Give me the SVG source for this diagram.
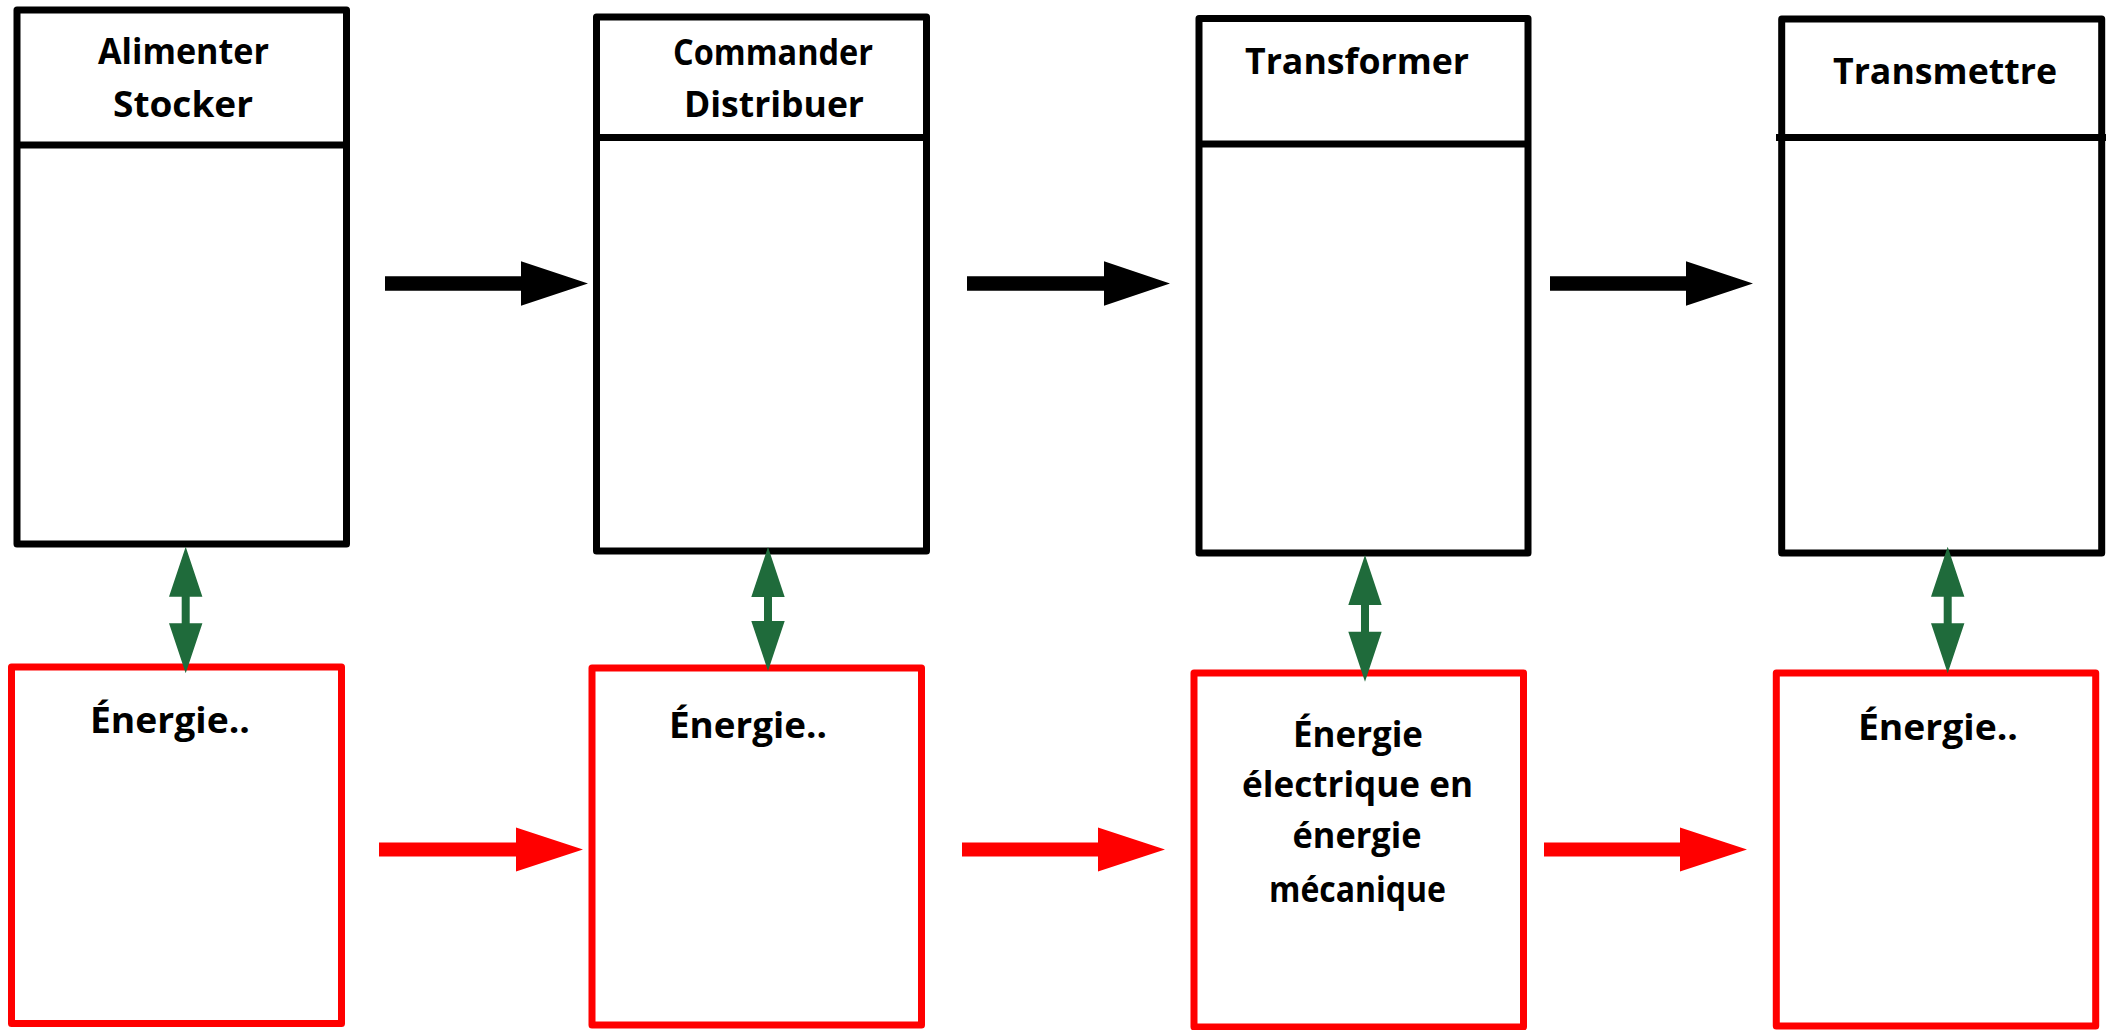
<svg xmlns="http://www.w3.org/2000/svg" width="2112" height="1030" viewBox="0 0 2112 1030">
<style>
.bk{fill:#fff;stroke:#000;stroke-width:7;stroke-linejoin:round}
.dv{stroke:#000;stroke-width:7;stroke-linecap:butt}
.rd{fill:#fff;stroke:#ff0000;stroke-width:7;stroke-linejoin:round}
.t{font-family:'Comic Sans MS','Open Sans','DejaVu Sans',sans-serif;font-weight:bold;font-size:36px;fill:#000;text-anchor:middle}
.ab{fill:#000}
.ar{fill:#ff0000}
.ag{fill:#1f6b3b}
</style>
<rect width="2112" height="1030" fill="#fff"/>
<g id="fn1">
<rect class="bk" x="17" y="10" width="329.5" height="534"/>
<line class="dv" x1="17" y1="145" x2="346.5" y2="145"/>
<text class="t" x="183.5" y="64" textLength="171" lengthAdjust="spacingAndGlyphs">Alimenter</text>
<text class="t" x="183" y="117" textLength="140" lengthAdjust="spacingAndGlyphs">Stocker</text>
</g>
<g id="fn2">
<rect class="bk" x="596.5" y="17" width="330" height="534"/>
<line class="dv" x1="596.5" y1="137.5" x2="926.5" y2="137.5"/>
<text class="t" x="773" y="65" textLength="200" lengthAdjust="spacingAndGlyphs">Commander</text>
<text class="t" x="774" y="117" textLength="180" lengthAdjust="spacingAndGlyphs">Distribuer</text>
</g>
<g id="fn3">
<rect class="bk" x="1199" y="18.5" width="329" height="534.5"/>
<line class="dv" x1="1199" y1="144" x2="1528" y2="144"/>
<text class="t" x="1357" y="74" textLength="224" lengthAdjust="spacingAndGlyphs">Transformer</text>
</g>
<g id="fn4">
<rect class="bk" x="1781.7" y="19" width="320" height="534"/>
<line class="dv" x1="1776" y1="137.5" x2="2106" y2="137.5"/>
<text class="t" x="1945" y="84" textLength="224" lengthAdjust="spacingAndGlyphs">Transmettre</text>
</g>
<g id="en1">
<rect class="rd" x="11.5" y="667" width="330" height="356.5"/>
<text class="t" x="170" y="733" textLength="160" lengthAdjust="spacingAndGlyphs">Énergie..</text>
</g>
<g id="en2">
<rect class="rd" x="592" y="668" width="329.5" height="357"/>
<text class="t" x="748" y="738" textLength="158" lengthAdjust="spacingAndGlyphs">Énergie..</text>
</g>
<g id="en3">
<rect class="rd" x="1194" y="673" width="329.5" height="354"/>
<text class="t" x="1358" y="746.7" textLength="130" lengthAdjust="spacingAndGlyphs">Énergie</text>
<text class="t" x="1357.5" y="796.7" textLength="231" lengthAdjust="spacingAndGlyphs">électrique en</text>
<text class="t" x="1357" y="848" textLength="129" lengthAdjust="spacingAndGlyphs">énergie</text>
<text class="t" x="1357.5" y="901.7" textLength="177" lengthAdjust="spacingAndGlyphs">mécanique</text>
</g>
<g id="en4">
<rect class="rd" x="1776.3" y="673" width="319.4" height="353"/>
<text class="t" x="1938" y="740" textLength="160" lengthAdjust="spacingAndGlyphs">Énergie..</text>
</g>
<g id="connectors">
<polygon class="ab" points="385,276.2 521,276.2 521,261.3 588,283.5 521,305.7 521,290.8 385,290.8"/>
<polygon class="ab" points="967,276.2 1104,276.2 1104,261.3 1170,283.5 1104,305.7 1104,290.8 967,290.8"/>
<polygon class="ab" points="1550,276.2 1686,276.2 1686,261.3 1753,283.5 1686,305.7 1686,290.8 1550,290.8"/>
<polygon class="ar" points="379,842.5 516,842.5 516,827.5 583,849.5 516,871.5 516,856.5 379,856.5"/>
<polygon class="ar" points="962,842.5 1098,842.5 1098,827.5 1165,849.5 1098,871.5 1098,856.5 962,856.5"/>
<polygon class="ar" points="1544,842.5 1680,842.5 1680,827.5 1747,849.5 1680,871.5 1680,856.5 1544,856.5"/>
<polygon class="ag" points="185.7,546.7 202.4,596.7 189.7,596.7 189.7,623.3 202.4,623.3 185.7,673.3 169,623.3 181.7,623.3 181.7,596.7 169,596.7"/>
<polygon class="ag" points="768,547 784.7,597 772,597 772,621 784.7,621 768,671 751.3,621 764,621 764,597 751.3,597"/>
<polygon class="ag" points="1365,555 1381.7,605 1369,605 1369,631.7 1381.7,631.7 1365,681.7 1348.3,631.7 1361,631.7 1361,605 1348.3,605"/>
<polygon class="ag" points="1947.7,546.7 1964.4,596.7 1951.7,596.7 1951.7,623.3 1964.4,623.3 1947.7,673.3 1931,623.3 1943.7,623.3 1943.7,596.7 1931,596.7"/>
</g>
</svg>
